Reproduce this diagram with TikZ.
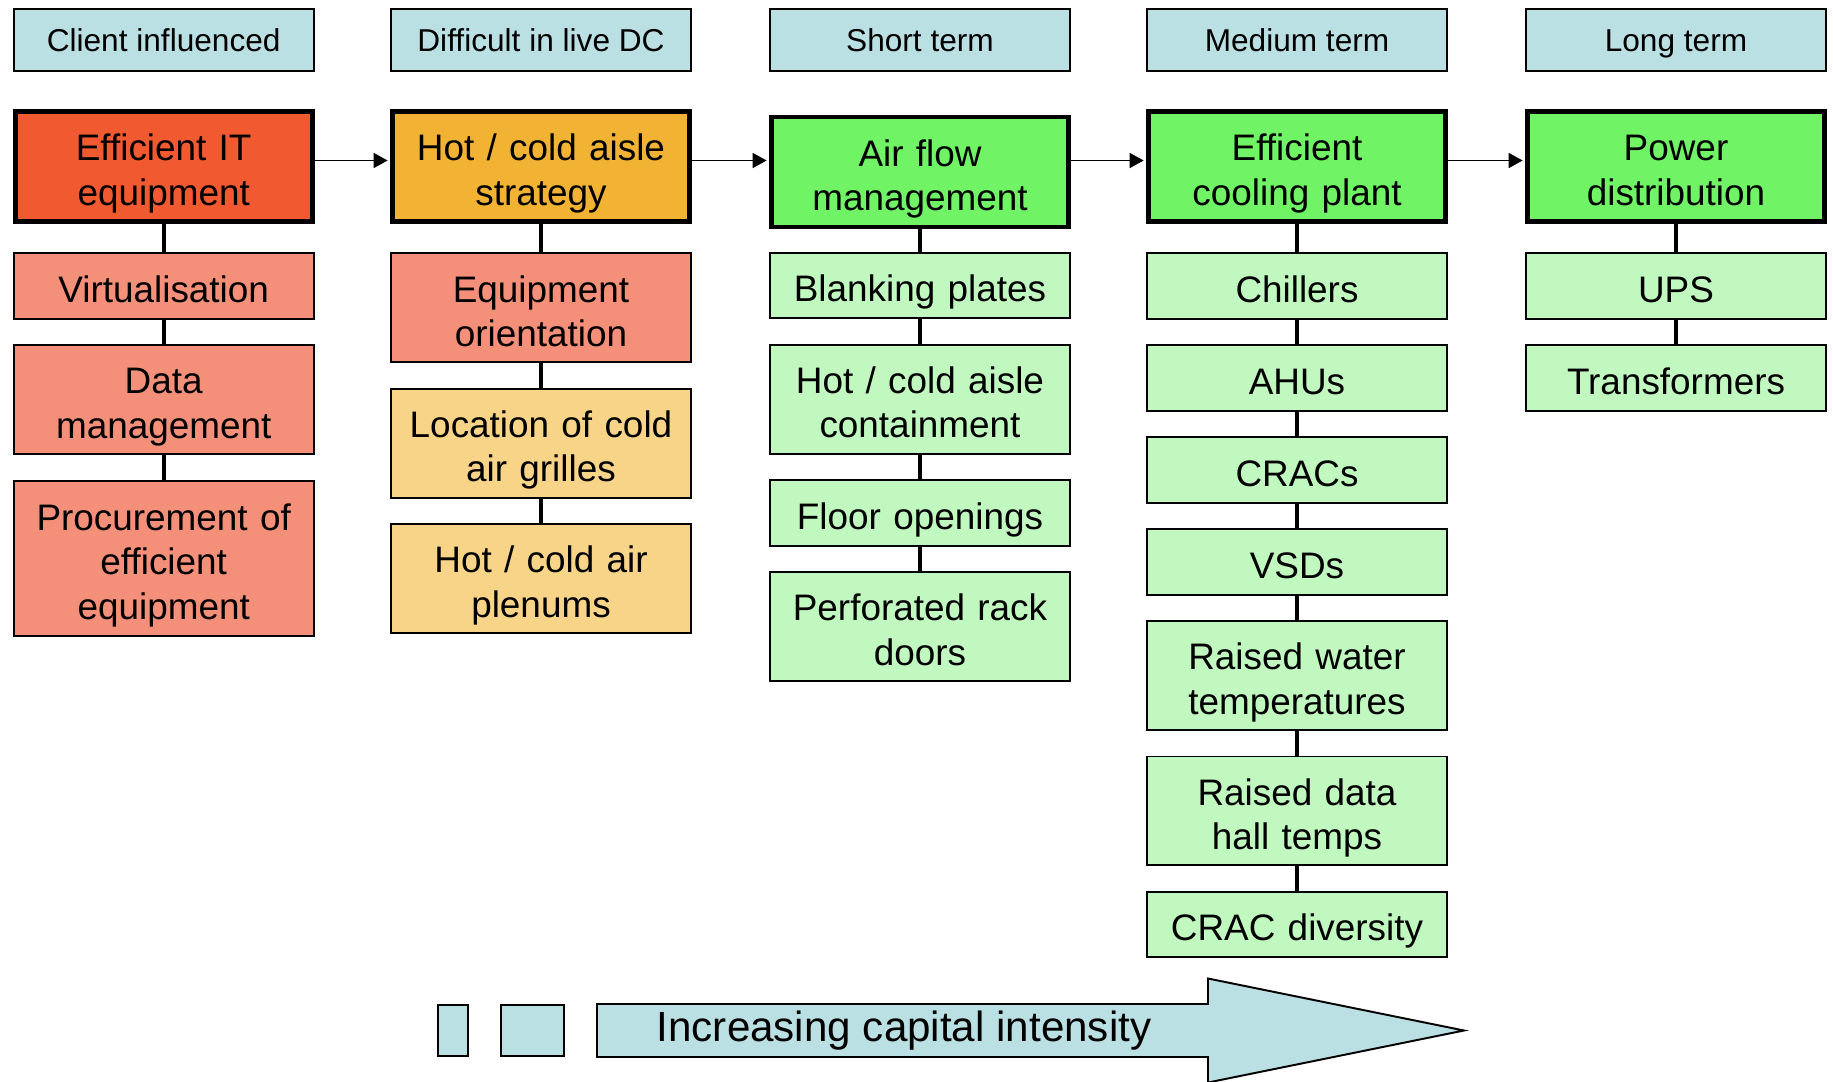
\documentclass[tikz,border=0pt]{standalone}
\usepackage{fontspec}
\setmainfont{Liberation Sans}
\usepackage{tikz}
\usetikzlibrary{arrows.meta, positioning}
\definecolor{phase-blue}{HTML}{BBE0E3}
\definecolor{it-red}{HTML}{F15A31}
\definecolor{it-salmon}{HTML}{F4907A}
\definecolor{aisle-orange}{HTML}{F2B233}
\definecolor{aisle-light}{HTML}{F8D488}
\definecolor{plant-green}{HTML}{70F466}
\definecolor{plant-light}{HTML}{C1F8BF}

\tikzset{
  phase/.style={draw, line width=1.1pt, fill=phase-blue, minimum width=6cm,
                minimum height=1.24cm, text height=13pt, text depth=0pt,
                font=\fontsize{18}{21}\selectfont},
  boxtext/.style={align=center, font=\fontsize{21}{25.3}\selectfont,
                  execute at begin node={\rule{0pt}{23pt}},
                  execute at end node={\rule[-4.4pt]{0pt}{4.4pt}}},
  lead/.style={draw, boxtext, line width=2.8pt, minimum width=5.94cm, minimum height=2.2cm,
               text width=5.6cm, inner xsep=0.17cm},
  item/.style={draw, boxtext, line width=1.1pt, minimum width=6cm, minimum height=1.31cm,
               text width=5.6cm, inner xsep=0.2cm},
  two/.style={minimum height=2.18cm},
  three/.style={minimum height=3.1cm},
  link/.style={line width=2.1pt},
  flow/.style={line width=1pt, shorten >=1.4pt, -{Triangle[length=0.28cm, width=0.3cm]}},
  node distance=0.49cm
}

\begin{document}
\begin{tikzpicture}[x=0.02cm, y=-0.02cm]
  \useasboundingbox (0,0) rectangle (1833,1082);

  % time horizon headers
  \node[phase] (h1) at (163.7,39.7) {Client influenced};
  \node[phase] (h2) at (541,39.7) {Difficult in live DC};
  \node[phase] (h3) at (920,39.7) {Short term};
  \node[phase] (h4) at (1297,39.7) {Medium term};
  \node[phase] (h5) at (1676,39.7) {Long term};

  % main measures
  \node[lead, fill=it-red] (m1) at (163.7,166.5) {Efficient IT\\equipment};
  \node[lead, fill=aisle-orange] (m2) at (541,166.5) {Hot / cold aisle\\strategy};
  \node[lead, fill=plant-green] (m3) at (920,172) {Air flow\\management};
  \node[lead, fill=plant-green] (m4) at (1297,166.5) {Efficient\\cooling plant};
  \node[lead, fill=plant-green] (m5) at (1676,166.5) {Power\\distribution};

  \draw[flow] ([yshift=0.12cm]m1.east) -- ([yshift=0.12cm]m2.west);
  \draw[flow] ([yshift=0.12cm]m2.east) -- ([yshift=0.12cm]m2.east -| m3.west);
  \draw[flow] ([yshift=0.12cm]m4.west -| m3.east) -- ([yshift=0.12cm]m4.west);
  \draw[flow] ([yshift=0.12cm]m4.east) -- ([yshift=0.12cm]m5.west);

  % client influenced
  \node[item, fill=it-salmon, below=0.57cm of m1] (c1a) {Virtualisation};
  \node[item, two, fill=it-salmon, below=of c1a] (c1b) {Data\\management};
  \node[item, three, fill=it-salmon, below=of c1b] (c1c) {Procurement of\\efficient\\equipment};

  % difficult in live DC
  \node[item, two, fill=it-salmon, below=0.57cm of m2] (c2a) {Equipment\\orientation};
  \node[item, two, fill=aisle-light, below=of c2a] (c2b) {Location of cold\\air grilles};
  \node[item, two, fill=aisle-light, below=of c2b] (c2c) {Hot / cold air\\plenums};

  % short term
  \node[item, fill=plant-light, below=0.45cm of m3] (c3a) {Blanking plates};
  \node[item, two, fill=plant-light, below=of c3a] (c3b) {Hot / cold aisle\\containment};
  \node[item, fill=plant-light, below=of c3b] (c3c) {Floor openings};
  \node[item, two, fill=plant-light, below=of c3c] (c3d) {Perforated rack\\doors};

  % medium term
  \node[item, fill=plant-light, below=0.57cm of m4] (c4a) {Chillers};
  \node[item, fill=plant-light, below=of c4a] (c4b) {AHUs};
  \node[item, fill=plant-light, below=of c4b] (c4c) {CRACs};
  \node[item, fill=plant-light, below=of c4c] (c4d) {VSDs};
  \node[item, two, fill=plant-light, below=of c4d] (c4e) {Raised water\\temperatures};
  \node[item, two, fill=plant-light, below=of c4e] (c4f) {Raised data\\hall temps};
  \node[item, fill=plant-light, below=of c4f] (c4g) {CRAC diversity};

  % long term
  \node[item, fill=plant-light, below=0.57cm of m5] (c5a) {UPS};
  \node[item, fill=plant-light, below=of c5a] (c5b) {Transformers};

  \foreach \a/\b in {m1/c1a, c1a/c1b, c1b/c1c, m2/c2a, c2a/c2b, c2b/c2c,
                     m3/c3a, c3a/c3b, c3b/c3c, c3c/c3d,
                     m4/c4a, c4a/c4b, c4b/c4c, c4c/c4d, c4d/c4e, c4e/c4f, c4f/c4g,
                     m5/c5a, c5a/c5b}
    \draw[link] (\a) -- (\b);

  % capital intensity arrow
  \node[draw, line width=1.1pt, fill=phase-blue, minimum width=0.6cm, minimum height=1.02cm] (s1) at (453,1030.5) {};
  \node[draw, line width=1.1pt, fill=phase-blue, minimum width=1.26cm, minimum height=1.02cm] (s2) at (532.5,1030.5) {};
  \draw[line width=1.1pt, fill=phase-blue] (597,1004) -- (1208,1004) -- (1208,978.5) -- (1464,1030.5)
    -- (1208,1082.5) -- (1208,1057) -- (597,1057) -- cycle;
  \node[font=\fontsize{24}{28}\selectfont] (trend) at (904,1030.5) {Increasing capital intensity};
\end{tikzpicture}
\end{document}
